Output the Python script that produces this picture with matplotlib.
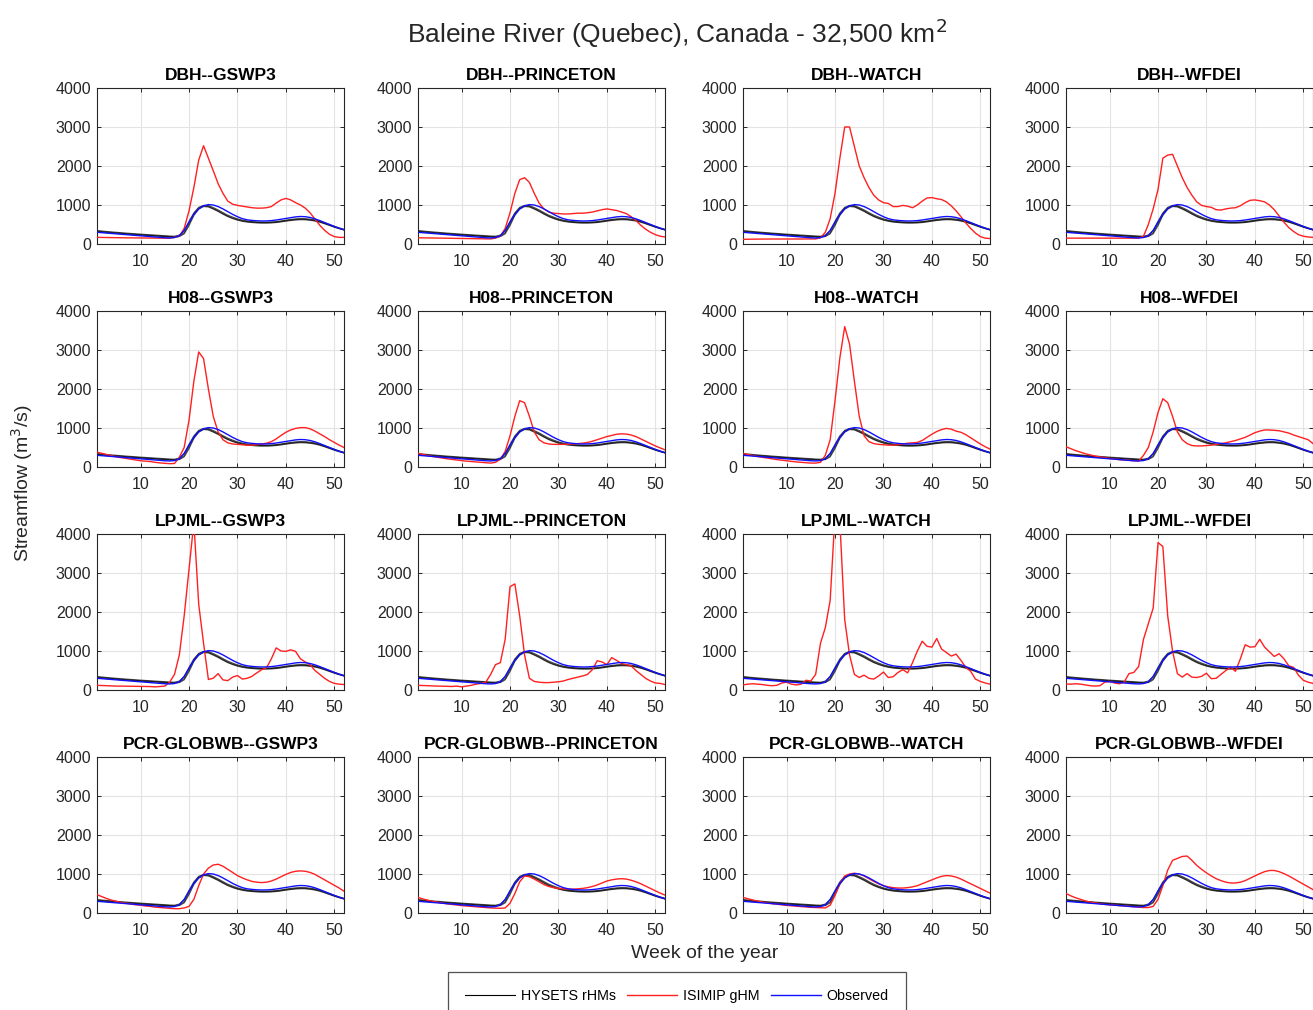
import numpy as np
import matplotlib
matplotlib.use("Agg")
import matplotlib.pyplot as plt

plt.rcParams['font.family'] = ['Liberation Sans', 'DejaVu Sans']

weeks = list(range(1, 53))

models = ["DBH", "H08", "LPJML", "PCR-GLOBWB"]
forcings = ["GSWP3", "PRINCETON", "WATCH", "WFDEI"]

observed = [300, 290, 280, 270, 260, 250, 240, 230, 220, 210, 200, 190, 180, 170, 160, 155, 165, 210, 350, 560,
            760, 900, 980, 1010, 1000, 960, 900, 830, 760, 700, 650, 620, 605, 595, 590, 592, 600, 615, 635, 655,
            675, 695, 705, 700, 680, 645, 600, 550, 500, 450, 405, 365]

hysets_a = [330, 318, 306, 295, 285, 275, 265, 256, 247, 238, 230, 222, 214, 206, 198, 190, 185, 205, 290, 520,
            770, 920, 975, 965, 910, 850, 780, 715, 665, 625, 595, 575, 562, 552, 548, 548, 552, 562, 578, 598,
            615, 628, 635, 632, 620, 600, 570, 530, 485, 440, 400, 365]
hysets_b = [345, 333, 321, 310, 300, 290, 280, 271, 262, 253, 245, 237, 229, 221, 213, 205, 200, 230, 340, 580,
            800, 940, 990, 985, 935, 875, 805, 740, 690, 645, 612, 590, 575, 566, 560, 560, 565, 575, 592, 612,
            630, 645, 652, 650, 638, 617, 587, 545, 500, 455, 413, 378]
hysets_c = [315, 303, 292, 282, 272, 262, 253, 244, 235, 227, 219, 211, 203, 195, 188, 180, 175, 190, 260, 470,
            730, 895, 960, 950, 895, 835, 765, 702, 652, 612, 582, 562, 550, 540, 536, 536, 540, 550, 566, 585,
            602, 615, 622, 620, 608, 588, 558, 518, 474, 430, 392, 358]

isimip = {
    "DBH--GSWP3": [170, 168, 166, 164, 162, 160, 158, 157, 156, 155, 154, 153, 152, 151, 150, 150, 170, 200, 400, 850,
                   1450, 2150, 2520, 2200, 1880, 1550, 1300, 1100, 1020, 990, 970, 950, 930, 920, 920, 930, 960, 1050, 1130, 1170,
                   1130, 1060, 1000, 920, 800, 640, 480, 350, 250, 190, 170, 170],
    "DBH--PRINCETON": [160, 158, 156, 154, 152, 150, 148, 146, 144, 142, 140, 138, 136, 134, 132, 130, 150, 200, 400, 800,
                       1300, 1650, 1700, 1580, 1300, 1050, 900, 820, 790, 780, 770, 770, 780, 790, 790, 800, 820, 850, 880, 900,
                       880, 860, 820, 780, 700, 600, 480, 380, 300, 240, 200, 180],
    "DBH--WATCH": [120, 122, 124, 125, 126, 127, 128, 128, 128, 128, 128, 128, 128, 129, 130, 130, 160, 300, 650, 1300,
                   2200, 3000, 3000, 2500, 2000, 1700, 1450, 1250, 1130, 1060, 1040, 960, 960, 990, 970, 930, 1000, 1100, 1180, 1190,
                   1160, 1140, 1080, 980, 850, 700, 540, 400, 280, 190, 150, 140],
    "DBH--WFDEI": [150, 150, 150, 150, 150, 150, 150, 150, 150, 150, 150, 150, 150, 150, 150, 150, 200, 500, 900, 1400,
                   2200, 2280, 2300, 2000, 1700, 1450, 1250, 1080, 990, 960, 940, 880, 870, 900, 920, 930, 980, 1060, 1120, 1130,
                   1110, 1080, 1000, 880, 720, 560, 420, 320, 240, 200, 180, 170],
    "H08--GSWP3": [380, 350, 320, 290, 260, 240, 220, 200, 180, 160, 150, 140, 120, 105, 95, 85, 90, 250, 500, 1200,
                   2200, 2950, 2780, 2000, 1300, 900, 700, 620, 590, 580, 570, 560, 560, 570, 590, 610, 650, 720, 810, 890,
                   950, 990, 1010, 1010, 980, 920, 850, 780, 700, 630, 560, 500],
    "H08--PRINCETON": [350, 320, 295, 270, 250, 230, 210, 195, 180, 165, 150, 140, 130, 120, 110, 100, 120, 200, 400, 800,
                       1300, 1700, 1650, 1300, 900, 700, 620, 590, 580, 580, 580, 585, 590, 600, 610, 630, 660, 700, 740, 780,
                       810, 840, 850, 845, 820, 780, 720, 660, 600, 540, 490, 440],
    "H08--WATCH": [350, 320, 295, 270, 250, 230, 210, 190, 175, 160, 145, 130, 120, 110, 100, 100, 120, 300, 700, 1700,
                   2800, 3600, 3150, 2200, 1300, 800, 650, 600, 580, 570, 560, 560, 570, 590, 610, 620, 630, 680, 760, 840,
                   910, 960, 990, 970, 920, 890, 830, 750, 670, 590, 520, 460],
    "H08--WFDEI": [520, 470, 420, 380, 340, 310, 280, 260, 240, 220, 205, 190, 180, 170, 160, 150, 300, 500, 900, 1400,
                   1750, 1650, 1300, 900, 700, 600, 550, 540, 540, 550, 560, 580, 600, 620, 650, 680, 720, 760, 820, 880,
                   920, 950, 950, 940, 930, 900, 870, 820, 780, 740, 700, 600],
    "LPJML--GSWP3": [120, 115, 110, 105, 100, 100, 98, 96, 94, 92, 90, 88, 80, 90, 100, 200, 400, 900, 1900, 3100,
                     4300, 2200, 1200, 270, 300, 420, 260, 240, 330, 370, 280, 300, 350, 440, 520, 570, 800, 1080, 1000, 990,
                     1030, 990, 800, 720, 650, 500, 400, 300, 220, 170, 150, 140],
    "LPJML--PRINCETON": [120, 115, 110, 105, 100, 98, 95, 90, 100, 80, 100, 120, 150, 170, 200, 400, 650, 700, 1300, 2650,
                         2720, 1900, 900, 300, 220, 200, 190, 190, 200, 210, 230, 270, 300, 330, 360, 400, 520, 750, 720, 650,
                         830, 760, 680, 650, 620, 500, 400, 300, 230, 180, 170, 140],
    "LPJML--WATCH": [130, 150, 160, 150, 140, 120, 110, 120, 180, 200, 150, 130, 150, 250, 230, 400, 1200, 1600, 2300, 4500,
                     4300, 1800, 900, 400, 320, 380, 300, 280, 360, 460, 320, 340, 450, 520, 440, 700, 1000, 1250, 1120, 1100,
                     1320, 1050, 960, 870, 920, 760, 580, 480, 280, 220, 180, 150],
    "LPJML--WFDEI": [150, 150, 160, 150, 130, 110, 100, 110, 200, 220, 180, 160, 200, 420, 450, 600, 1300, 1700, 2100, 3780,
                     3680, 1900, 1000, 420, 330, 420, 330, 320, 350, 430, 290, 300, 400, 500, 580, 480, 800, 1160, 1100, 1110,
                     1300, 1100, 980, 860, 930, 800, 620, 580, 380, 250, 200, 170],
    "PCR-GLOBWB--GSWP3": [470, 420, 370, 330, 300, 270, 250, 230, 210, 200, 180, 170, 150, 140, 130, 120, 110, 110, 130, 170,
                          350, 700, 1000, 1150, 1230, 1250, 1200, 1120, 1040, 960, 900, 850, 810, 790, 780, 790, 820, 870, 930, 990,
                          1040, 1070, 1080, 1070, 1040, 990, 920, 850, 780, 710, 640, 560],
    "PCR-GLOBWB--PRINCETON": [400, 360, 330, 300, 275, 255, 235, 220, 205, 190, 180, 170, 160, 150, 140, 130, 125, 120, 130, 250,
                              500, 800, 950, 930, 870, 800, 730, 680, 650, 630, 620, 610, 610, 620, 630, 650, 680, 720, 770, 820,
                              850, 870, 880, 870, 840, 800, 750, 690, 630, 570, 510, 460],
    "PCR-GLOBWB--WATCH": [400, 365, 335, 305, 280, 260, 240, 225, 210, 195, 185, 175, 165, 155, 145, 140, 135, 130, 200, 450,
                          750, 950, 1000, 1020, 1000, 950, 880, 810, 750, 700, 670, 650, 640, 640, 650, 670, 700, 750, 800, 850,
                          900, 940, 960, 950, 920, 870, 810, 750, 690, 630, 570, 510],
    "PCR-GLOBWB--WFDEI": [500, 440, 390, 350, 310, 280, 260, 240, 220, 210, 200, 190, 180, 170, 160, 150, 140, 140, 170, 350,
                          700, 1100, 1350, 1400, 1450, 1460, 1350, 1220, 1120, 1030, 950, 880, 830, 790, 770, 770, 790, 830, 890, 950,
                          1010, 1060, 1090, 1090, 1060, 1010, 950, 880, 810, 740, 670, 600],
}

xticks = [10, 20, 30, 40, 50]
yticks = [0, 1000, 2000, 3000, 4000]

W, H = 1313, 1010
fig = plt.figure(figsize=(W / 100, H / 100), dpi=100)

col_left = [97, 418, 743, 1066]
row_top = [88, 311, 534, 757]
ax_w, ax_h = 247, 156

tick_color = '#262626'
handles = None
for i, m in enumerate(models):
    for j, f in enumerate(forcings):
        key = f"{m}--{f}"
        ax = fig.add_axes([col_left[j] / W, 1 - (row_top[i] + ax_h) / H, ax_w / W, ax_h / H])
        hb = None
        for hs in (hysets_a, hysets_b, hysets_c):
            hb, = ax.plot(weeks, hs, color='black', lw=0.8, alpha=0.7, zorder=2)
        hr, = ax.plot(weeks, isimip[key], color='#ff2020', lw=1.0, zorder=3)
        ho, = ax.plot(weeks, observed, color='#1010ff', lw=1.0, zorder=4)
        handles = (hb, hr, ho)
        ax.set_xlim(1, 52)
        ax.set_ylim(0, 4000)
        ax.set_xticks(xticks)
        ax.set_yticks(yticks)
        ax.grid(True, color='#e3e3e3', lw=0.8, zorder=0)
        ax.set_axisbelow(True)
        ax.tick_params(direction='in', length=3, width=0.7, top=True, right=True,
                       labelsize=11.5, colors=tick_color)
        ax.tick_params(axis='x', pad=7)
        ax.tick_params(axis='y', pad=4)
        for s in ax.spines.values():
            s.set_color(tick_color)
            s.set_linewidth(0.8)
        ax.set_title(key, fontsize=12.5, fontweight='bold', pad=6)

fig.text(677 / W, 1 - 33 / H, "Baleine River (Quebec), Canada - 32,500 km$^2$", ha='center', va='center',
         fontsize=19, color='#262626')
fig.text(22 / W, 1 - 483 / H, "Streamflow (m$^3$/s)", rotation=90, ha='center', va='center',
         fontsize=14, color='#262626')
fig.text(705 / W, 1 - 953 / H, "Week of the year", ha='center', va='center', fontsize=14, color='#262626')

leg = fig.legend(handles, ["HYSETS rHMs", "ISIMIP gHM", "Observed"], loc='upper center',
                 bbox_to_anchor=(677 / W, 1 - 972 / H), borderaxespad=0, ncol=3, frameon=True, fancybox=False,
                 fontsize=10.3, handlelength=3.5, columnspacing=0.8, handletextpad=0.4, borderpad=1.2)
leg.get_frame().set_edgecolor('#262626')
leg.get_frame().set_linewidth(0.9)
for lh in leg.get_lines():
    lh.set_alpha(1)

fig.savefig("out.png", dpi=100)
